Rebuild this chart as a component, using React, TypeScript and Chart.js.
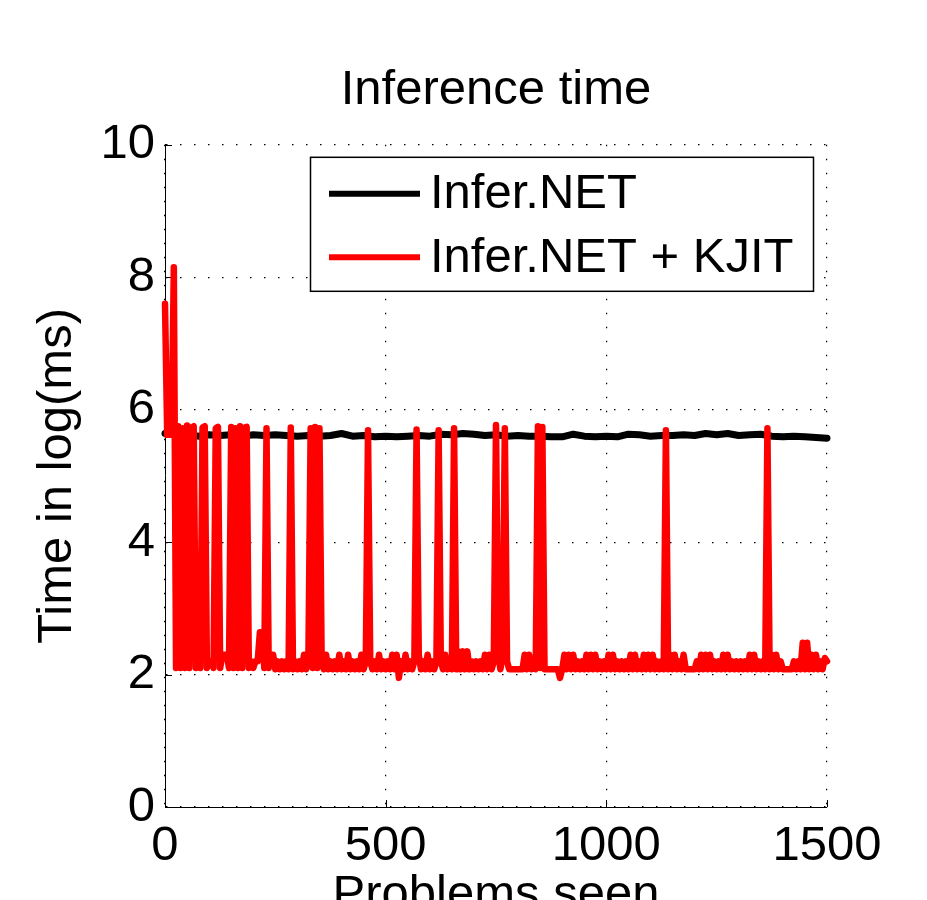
import React, { useEffect, useRef } from "react";
import { Chart, registerables } from "chart.js";

Chart.register(...registerables);

const FONT = '"Liberation Sans", Arial, Helvetica, sans-serif';
const FONT_SIZE = 49;

// ---- data (log of inference time in ms) ----
const titleText = "Inference time";
const xTitle = "Problems seen";
const yTitle = "Time in log(ms)";
const seriesLabels = ["Infer.NET", "Infer.NET + KJIT"];
const xTicks = [0, 500, 1000, 1500];
const yTicks = [0, 2, 4, 6, 8, 10];

// Infer.NET + KJIT, sampled every 5 problems (x = 0, 5, 10, ... 1500)
const KJIT_STEP = 5;
const kjitLogMs: number[] = [
  7.6, 5.62, 5.62, 5.62, 8.15, 2.1, 5.75, 2.1, 5.72, 2.1, // 0-45
  5.76, 2.1, 5.73, 5.75, 2.1, 2.45, 2.1, 5.73, 5.75, 2.1, // 50-95
  2.2, 2.2, 2.1, 5.72, 5.74, 2.1, 2.3, 2.3, 2.3, 2.1, // 100-145
  5.74, 2.1, 5.72, 2.1, 5.75, 2.1, 5.73, 5.74, 2.1, 2.2, // 150-195
  2.1, 2.2, 2.2, 2.64, 2.64, 2.1, 5.72, 2.1, 2.3, 2.3, // 200-245
  2.08, 2.2, 2.08, 2.2, 2.08, 2.2, 2.08, 5.73, 2.08, 2.2, // 250-295
  2.08, 2.2, 2.08, 2.3, 2.08, 2.3, 5.72, 2.1, 5.74, 2.1, // 300-345
  5.72, 2.2, 2.08, 2.3, 2.08, 2.2, 2.08, 2.2, 2.08, 2.3, // 350-395
  2.08, 2.2, 2.08, 2.3, 2.08, 2.2, 2.08, 2.2, 2.08, 2.3, // 400-445
  2.08, 2.2, 5.69, 2.2, 2.08, 2.2, 2.08, 2.3, 2.08, 2.2, // 450-495
  2.08, 2.2, 2.08, 2.3, 2.08, 2.3, 1.95, 2.2, 2.08, 2.3, // 500-545
  2.08, 2.2, 2.08, 2.2, 5.7, 2.3, 2.08, 2.2, 2.08, 2.3, // 550-595
  2.08, 2.2, 2.08, 2.2, 5.69, 2.2, 2.08, 2.3, 2.08, 2.2, // 600-645
  2.08, 5.72, 2.08, 2.35, 2.08, 2.35, 2.08, 2.35, 2.08, 2.2, // 650-695
  2.08, 2.2, 2.08, 2.2, 2.08, 2.3, 2.08, 2.3, 2.08, 2.2, // 700-745
  5.77, 2.3, 2.08, 2.3, 5.72, 2.2, 2.08, 2.08, 2.08, 2.08, // 750-795
  2.08, 2.08, 2.08, 2.3, 2.08, 2.3, 2.08, 2.2, 2.08, 5.75, // 800-845
  2.1, 5.74, 2.08, 2.08, 2.08, 2.08, 2.08, 2.08, 2.08, 1.95, // 850-895
  2.08, 2.3, 2.08, 2.3, 2.08, 2.3, 2.08, 2.2, 2.08, 2.2, // 900-945
  2.08, 2.3, 2.08, 2.3, 2.08, 2.3, 2.08, 2.2, 2.08, 2.2, // 950-995
  2.08, 2.3, 2.08, 2.3, 2.08, 2.2, 2.08, 2.2, 2.08, 2.2, // 1000-1045
  2.08, 2.3, 2.08, 2.3, 2.08, 2.2, 2.08, 2.3, 2.08, 2.3, // 1050-1095
  2.08, 2.3, 2.08, 2.2, 2.08, 2.2, 2.08, 5.69, 2.08, 2.3, // 1100-1145
  2.08, 2.3, 2.08, 2.2, 2.08, 2.3, 2.08, 2.08, 2.08, 2.08, // 1150-1195
  2.08, 2.2, 2.08, 2.3, 2.08, 2.3, 2.08, 2.3, 2.08, 2.2, // 1200-1245
  2.08, 2.2, 2.08, 2.3, 2.08, 2.3, 2.08, 2.2, 2.08, 2.2, // 1250-1295
  2.08, 2.2, 2.08, 2.2, 2.08, 2.3, 2.08, 2.3, 2.08, 2.2, // 1300-1345
  2.08, 2.2, 2.08, 5.72, 2.08, 2.3, 2.08, 2.3, 2.08, 2.2, // 1350-1395
  2.08, 2.08, 2.08, 2.08, 2.08, 2.2, 2.08, 2.2, 2.08, 2.48, // 1400-1445
  2.08, 2.48, 2.08, 2.3, 2.08, 2.3, 2.08, 2.2, 2.08, 2.25, // 1450-1495
  2.2, // 1500
];
const kjitProblems: number[] = kjitLogMs.map((_, i) => i * KJIT_STEP);

// Infer.NET, sampled every 25 problems (x = 0, 25, ... 1500)
const INFER_STEP = 25;
const inferNetLogMs: number[] = [
  5.64, 5.62, 5.63, 5.6, 5.62, 5.61, 5.62, 5.6, 5.62, 5.61, // 0-225
  5.62, 5.61, 5.6, 5.61, 5.6, 5.61, 5.64, 5.6, 5.61, 5.59, // 250-475
  5.6, 5.59, 5.6, 5.61, 5.6, 5.63, 5.62, 5.64, 5.63, 5.61, // 500-725
  5.62, 5.6, 5.61, 5.6, 5.6, 5.59, 5.59, 5.63, 5.6, 5.59, // 750-975
  5.6, 5.59, 5.63, 5.62, 5.6, 5.61, 5.61, 5.62, 5.61, 5.64, // 1000-1225
  5.62, 5.64, 5.61, 5.62, 5.63, 5.6, 5.59, 5.6, 5.59, 5.58, // 1250-1475
  5.57, // 1500
];
const inferNetProblems: number[] = inferNetLogMs.map((_, i) => i * INFER_STEP);

const seriesColors = ["#000000", "#ff0000"];

// ---- plugins ----
const boxLegendPlugin = {
  id: "boxLegend",
  afterDatasetsDraw(chart: any) {
    const { ctx, chartArea } = chart;
    const left = chartArea.left + 145;
    const right = chartArea.right - 14;
    const top = chartArea.top + 12;
    const height = 134;
    ctx.save();
    ctx.fillStyle = "#ffffff";
    ctx.fillRect(left, top, right - left, height);
    ctx.strokeStyle = "#000";
    ctx.lineWidth = 1.5;
    ctx.strokeRect(left + 0.5, top + 0.5, right - left, height);
    const rows = [top + 37, top + 100.5];
    chart.data.datasets.forEach((ds: any, i: number) => {
      const y = rows[i];
      ctx.strokeStyle = ds.borderColor;
      ctx.lineWidth = 6;
      ctx.lineCap = "butt";
      ctx.beginPath();
      ctx.moveTo(left + 19, y);
      ctx.lineTo(left + 110, y);
      ctx.stroke();
      ctx.fillStyle = "#000";
      ctx.font = `${FONT_SIZE}px ${FONT}`;
      ctx.textBaseline = "middle";
      ctx.textAlign = "left";
      ctx.fillText(ds.label, left + 120, y + 1);
    });
    ctx.restore();
  },
};

const inwardTicksPlugin = {
  id: "inwardTicks",
  beforeDatasetsDraw(chart: any) {
    const { ctx, chartArea, scales } = chart;
    const len = 7;
    ctx.save();
    ctx.strokeStyle = "#000";
    ctx.lineWidth = 1;
    ctx.beginPath();
    yTicks.forEach((v) => {
      const y = Math.round(scales.y.getPixelForValue(v)) + 0.5;
      ctx.moveTo(chartArea.left, y);
      ctx.lineTo(chartArea.left + len, y);
    });
    xTicks.forEach((v) => {
      const x = Math.round(scales.x.getPixelForValue(v)) + 0.5;
      ctx.moveTo(x, chartArea.bottom);
      ctx.lineTo(x, chartArea.bottom - len);
    });
    ctx.stroke();
    ctx.restore();
  },
};

export default function App() {
  const ref = useRef<HTMLCanvasElement>(null);

  useEffect(() => {
    document.body.style.margin = "0";
    const canvas = ref.current;
    if (!canvas) return;

    const tickFont = { family: FONT, size: FONT_SIZE, weight: "normal" as const };
    const gridOpts = { color: "#000", lineWidth: 1.2, drawTicks: false };
    const borderOpts = { display: true, color: "#000", width: 1, dash: [1.5, 12.5] };

    const chart = new Chart(canvas, {
      type: "line",
      data: {
        datasets: [
          {
            label: seriesLabels[0],
            data: inferNetProblems.map((x, i) => ({ x, y: inferNetLogMs[i] })),
            borderColor: seriesColors[0],
            backgroundColor: seriesColors[0],
            borderWidth: 7,
            pointRadius: 0,
            tension: 0,
            borderJoinStyle: "round",
            borderCapStyle: "round",
            clip: false,
            order: 1,
          },
          {
            label: seriesLabels[1],
            data: kjitProblems.map((x, i) => ({ x, y: kjitLogMs[i] })),
            borderColor: seriesColors[1],
            backgroundColor: seriesColors[1],
            borderWidth: 6.5,
            pointRadius: 0,
            tension: 0,
            borderJoinStyle: "round",
            borderCapStyle: "round",
            clip: false,
            order: 0,
          },
        ],
      },
      options: {
        animation: false,
        responsive: false,
        devicePixelRatio: 1,
        layout: { padding: { left: 0, right: 100, top: 0, bottom: 0 } },
        plugins: {
          legend: { display: false },
          tooltip: { enabled: false },
          title: {
            display: true,
            text: titleText,
            color: "#000",
            fullSize: false,
            font: { family: FONT, size: FONT_SIZE, weight: "normal", lineHeight: 1.2 },
            padding: { top: 61, bottom: 25 },
          },
        },
        scales: {
          x: {
            type: "linear",
            min: 0,
            max: 1500,
            afterBuildTicks: (s: any) => {
              s.ticks = xTicks.map((v) => ({ value: v }));
            },
            afterFit: (s: any) => {
              s.height = 93;
            },
            grid: gridOpts,
            border: borderOpts,
            ticks: {
              color: "#000",
              font: tickFont,
              padding: 10,
              maxRotation: 0,
              autoSkip: false,
              callback: (v: any) => String(v),
            },
            title: {
              display: true,
              text: xTitle,
              color: "#000",
              font: { family: FONT, size: FONT_SIZE, weight: "normal", lineHeight: 10 / FONT_SIZE },
              padding: 0,
            },
          },
          y: {
            type: "linear",
            min: 0,
            max: 10,
            afterBuildTicks: (s: any) => {
              s.ticks = yTicks.map((v) => ({ value: v }));
            },
            afterFit: (s: any) => {
              s.width = 165;
            },
            grid: gridOpts,
            border: borderOpts,
            ticks: {
              color: "#000",
              font: tickFont,
              padding: 10,
              autoSkip: false,
              callback: (v: any) => String(v),
            },
            title: {
              display: true,
              text: yTitle,
              color: "#000",
              font: { family: FONT, size: FONT_SIZE, weight: "normal", lineHeight: 1.2 },
              padding: { top: 28, bottom: 0 },
            },
          },
        },
      },
      plugins: [inwardTicksPlugin, boxLegendPlugin],
    } as any);

    return () => chart.destroy();
  }, []);

  return <canvas ref={ref} width={927} height={900} style={{ display: "block" }} />;
}
